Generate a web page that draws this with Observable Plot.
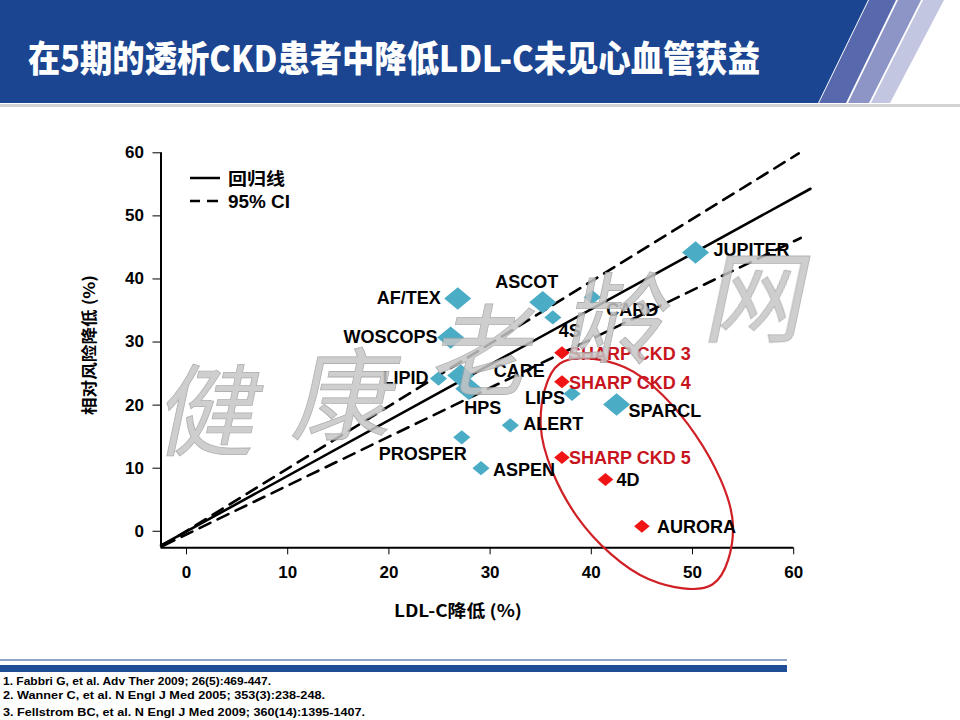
<!DOCTYPE html>
<html>
<head>
<meta charset="utf-8">
<script src="https://cdn.jsdelivr.net/npm/d3@7"></script>
<script src="https://cdn.jsdelivr.net/npm/@observablehq/plot@0.6"></script>
<style>
  html, body { margin: 0; padding: 0; background: #fff; }
  #page { position: relative; width: 960px; height: 720px; overflow: hidden; background: #fff; }
  #chart { position: absolute; left: 0; top: 110px; width: 960px; height: 520px; }
  #overlay { position: absolute; left: 0; top: 0; pointer-events: none; }
</style>
</head>
<body>
<div id="page">
  <div id="chart"></div>
  <svg id="overlay" width="960" height="720" xmlns="http://www.w3.org/2000/svg">
    <!-- header -->
    <polygon points="0,0 868,0 818,103 0,103" fill="#1b4591"/>
    <polygon points="869,0 896,0 846,103 819,103" fill="#5868ad"/>
    <polygon points="898,0 921,0 869,103 848,103" fill="#8d95c7"/>
    <polygon points="923,0 944,0 890,103 871,103" fill="#c3c6e0"/>
    <rect x="0" y="104" width="960" height="3" fill="#d3d3d3"/>
    <text id="title" x="28" y="72" fill="#fff" font-family="'Noto Sans CJK SC', sans-serif" font-weight="900" font-size="36" textLength="732" lengthAdjust="spacingAndGlyphs">在5期的透析CKD患者中降低LDL-C未见心血管获益</text>

    <!-- legend -->
    <line x1="190" y1="178" x2="220" y2="178" stroke="#000" stroke-width="2.5"/>
    <line x1="190" y1="201" x2="200" y2="201" stroke="#000" stroke-width="2.5"/>
    <line x1="207" y1="201" x2="218" y2="201" stroke="#000" stroke-width="2.5"/>
    <text x="228" y="185" font-family="'Noto Sans CJK SC', sans-serif" font-weight="bold" font-size="17" textLength="57" lengthAdjust="spacingAndGlyphs">回归线</text>
    <text x="228" y="207.5" font-family="'Liberation Sans', Arial, sans-serif" font-weight="bold" font-size="17.5" textLength="62" lengthAdjust="spacingAndGlyphs">95% CI</text>

    <!-- axis titles -->
    <text transform="translate(95,345) rotate(-90)" text-anchor="middle" font-family="'Noto Sans CJK SC', sans-serif" font-weight="bold" font-size="16" textLength="140" lengthAdjust="spacingAndGlyphs">相对风险降低 (%)</text>
    <text x="458" y="617" text-anchor="middle" font-family="'Noto Sans CJK SC', sans-serif" font-weight="bold" font-size="17" textLength="128" lengthAdjust="spacingAndGlyphs">LDL-C降低 (%)</text>

    <!-- footer -->
    <rect x="0" y="659" width="787" height="2" fill="#8ea3c8"/>
    <rect x="0" y="665" width="787" height="7" fill="#1f4e96"/>
    <g font-family="'Liberation Sans Narrow', 'Arial Narrow', 'Liberation Sans', sans-serif" font-weight="bold" font-size="11.5" fill="#000">
      <text x="3" y="685" textLength="268" lengthAdjust="spacingAndGlyphs">1. Fabbri G, et al. Adv Ther 2009; 26(5):469-447.</text>
      <text x="3" y="699" textLength="322" lengthAdjust="spacingAndGlyphs">2. Wanner C, et al. N Engl J Med 2005; 353(3):238-248.</text>
      <text x="3" y="716" textLength="362" lengthAdjust="spacingAndGlyphs">3. Fellstrom BC, et al. N Engl J Med 2009; 360(14):1395-1407.</text>
    </g>

    <!-- watermark -->
    <g font-family="'Noto Sans CJK SC', sans-serif" font-weight="400" font-size="100" fill="#c6c6c6" stroke="#a2a2a2" stroke-width="0.8" opacity="0.85" text-anchor="middle">
      <text transform="translate(204,448) skewX(-12)">健</text>
      <text transform="translate(340,432) skewX(-12)">康</text>
      <text transform="translate(478,388) skewX(-12)">老</text>
      <text transform="translate(612,356) skewX(-12)">龄</text>
      <text transform="translate(752,334) skewX(-12)">网</text>
    </g>
  </svg>
</div>
<script>
// ---- data ----
const trials = ["AF/TEX","WOSCOPS","LIPID","CARE","HPS","ASCOT","4S","CARD","JUPITER","LIPS","SPARCL","ALERT","PROSPER","ASPEN","SHARP CKD 3","SHARP CKD 4","SHARP CKD 5","4D","AURORA"];
const ldlcReduction = [26.8,26.1,24.9,27.1,27.9,35.2,36.2,40.1,50.3,38.1,42.5,32.0,27.2,29.1,37.1,37.1,37.1,41.4,45.0];
const riskReduction = [36.9,30.7,24.2,24.7,22.6,36.3,33.9,37.1,44.2,21.8,20.1,16.8,14.9,10.0,28.3,23.7,11.7,8.2,0.8];
const trialType = ["large","large","small","large","large","large","small","small","large","small","large","small","small","small","ckd","ckd","ckd","ckd","ckd"];

// regression line and 95% CI lines (end points)
const lineNames = ["regression","ciUpper","ciLower"];
const lineStartX = [-2.52, -2.47, -2.27];
const lineStartY = [-2.25, -2.4, -2.25];
const lineEndX = [61.66, 60.5, 60.7];
const lineEndY = [54.3, 59.9, 46.5];

// red ellipse outline points
const ellipseX = [52.0, 54.0, 50.3, 43.3, 36.9, 35.0, 38.6, 45.7];
const ellipseY = [-8.4, 0.9, 15.3, 26.0, 26.6, 16.8, 2.3, -7.6];

// axis ticks
const xTicks = [0, 10, 20, 30, 40, 50, 60];
const yTicks = [0, 10, 20, 30, 40, 50, 60];

// ---- styling / layout (not data) ----
const labelLayout = {
  "AF/TEX": {dx: -17, dy: 0, anchor: "end"},
  "WOSCOPS": {dx: -13, dy: 0, anchor: "end"},
  "LIPID": {dx: -10, dy: 0, anchor: "end"},
  "CARE": {dx: 33, dy: -4, anchor: "start"},
  "HPS": {dx: 14, dy: 20, anchor: "middle"},
  "ASCOT": {dx: -16, dy: -20, anchor: "middle"},
  "4S": {dx: 6, dy: 14, anchor: "start"},
  "CARD": {dx: 14, dy: 13, anchor: "start"},
  "JUPITER": {dx: 18, dy: -2, anchor: "start"},
  "LIPS": {dx: -7, dy: 4, anchor: "end"},
  "SPARCL": {dx: 12, dy: 7, anchor: "start"},
  "ALERT": {dx: 13, dy: -1, anchor: "start"},
  "PROSPER": {dx: -39, dy: 17, anchor: "middle"},
  "ASPEN": {dx: 12, dy: 2, anchor: "start"},
  "SHARP CKD 3": {dx: 7, dy: 1, anchor: "start"},
  "SHARP CKD 4": {dx: 7, dy: 1, anchor: "start"},
  "SHARP CKD 5": {dx: 7, dy: 1, anchor: "start"},
  "4D": {dx: 11, dy: 1, anchor: "start"},
  "AURORA": {dx: 15, dy: 1, anchor: "start"}
};
const typeStyle = {
  large: {r: 10.4, fill: "#4bacc6"},
  small: {r: 6.6, fill: "#4bacc6"},
  ckd: {r: 6.0, fill: "#f01414"}
};
const lineStyle = {
  regression: {dash: null},
  ciUpper: {dash: "12,8"},
  ciLower: {dash: "12,8"}
};

// rhombus symbol slightly wider than tall
const rhombus = {
  draw(ctx, size) {
    const r = Math.sqrt(size / Math.PI);
    ctx.moveTo(0, -1.08 * r);
    ctx.lineTo(1.3 * r, 0);
    ctx.lineTo(0, 1.08 * r);
    ctx.lineTo(-1.3 * r, 0);
    ctx.closePath();
  }
};

// tables built from the arrays
const points = trials.map((name, i) => ({name, x: ldlcReduction[i], y: riskReduction[i], type: trialType[i]}));
const lines = lineNames.flatMap((name, i) => [
  {name, x: lineStartX[i], y: lineStartY[i]},
  {name, x: lineEndX[i], y: lineEndY[i]}
]);
const ellipse = ellipseX.map((x, i) => ({x, y: ellipseY[i]}));

const labelFont = "'Liberation Sans', Arial, sans-serif";

const marks = [];
// axis lines
marks.push(Plot.ruleX([-2.52], {y1: -2.62, y2: 60, stroke: "#000", strokeWidth: 2}));
marks.push(Plot.ruleY([-2.62], {x1: -2.52, x2: 60, stroke: "#000", strokeWidth: 2}));
// regression + CI
for (const name of lineNames) {
  marks.push(Plot.line(lines.filter(d => d.name === name), {
    x: "x", y: "y", stroke: "#000", strokeWidth: 2.6,
    strokeDasharray: lineStyle[name].dash || undefined
  }));
}
// ellipse
marks.push(Plot.line(ellipse, {x: "x", y: "y", curve: "catmull-rom-closed", stroke: "#d01f25", strokeWidth: 2.2, fill: "none"}));
// points
for (const t of ["small", "large", "ckd"]) {
  marks.push(Plot.dot(points.filter(d => d.type === t), {
    x: "x", y: "y", r: typeStyle[t].r, fill: typeStyle[t].fill, symbol: rhombus, stroke: "none"
  }));
}
// labels
for (const p of points) {
  const L = labelLayout[p.name];
  marks.push(Plot.text([p], {
    x: "x", y: "y", text: "name", dx: L.dx, dy: L.dy, textAnchor: L.anchor,
    fontSize: 18, fontWeight: "bold", fontFamily: labelFont,
    fill: p.name.startsWith("SHARP") ? "#c8141c" : "#000"
  }));
}

const chart = Plot.plot({
  width: 960,
  height: 520,
  marginLeft: 160.5,
  marginRight: 150,
  marginTop: 42.3,
  marginBottom: 82.7,
  style: {background: "transparent", fontFamily: labelFont, fontSize: "17px", fontWeight: "bold", color: "#000", overflow: "visible"},
  x: {domain: [-2.52, 61.66], ticks: xTicks, tickSize: 7, tickPadding: 11, label: null, tickFormat: d => String(d)},
  y: {domain: [-2.62, 60], ticks: yTicks, tickSize: 8, tickPadding: 9, label: null, tickFormat: d => String(d)},
  marks
});
document.getElementById("chart").appendChild(chart);
</script>
</body>
</html>
